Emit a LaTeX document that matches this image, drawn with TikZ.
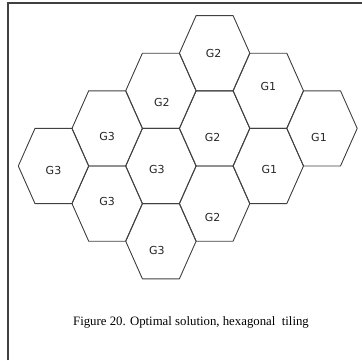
\documentclass[tikz,border=0pt]{standalone}
\usepackage{fontspec}
\setmainfont{Liberation Serif}
\newfontfamily\hexfont{DejaVu Sans}

\tikzset{
  hexcell/.style={draw=black!75, line width=0.9pt, line join=round},
  cellname/.style={font=\hexfont\fontsize{11}{13}\selectfont, text=black!85, inner sep=0pt},
  frameline/.style={draw=black!75, line width=1.5pt},
}

\begin{document}
\begin{tikzpicture}[x=1pt,y=-1pt]
\useasboundingbox (0,0) rectangle (362,360);

% frame (only left and top edges are visible)
\draw[frameline] (8,360) -- (8,3) -- (362,3);

% hexagonal cells: column/half-row/group/label shift
\foreach \c/\r/\g/\dx/\dy in
  {0/3/G3/0/4, 1/2/G3/0/8, 1/4/G3/0/-2,
   2/1/G2/1/12, 2/3/G3/-4/3, 2/5/G3/-4/9,
   3/0/G2/-1/0, 3/2/G2/-2/9, 3/4/G2/-2/14,
   4/1/G1/0/-4, 4/3/G1/1/3, 5/2/G1/-3/9}
{
  \pgfmathsetmacro\cx{53.5+53.7*\c}
  \pgfmathsetmacro\cy{53.2+37.6*\r}
  \draw[hexcell,shift={(\cx,\cy)}]
    (-35.2,0) -- (-18.5,-37.6) -- (18.5,-37.6) -- (35.2,0)
    -- (18.5,37.6) -- (-18.5,37.6) -- cycle;
  \node[cellname] (cell\c\r) at (\cx+\dx,\cy+\dy) {\g};
}

% caption
\node[font=\fontsize{12.8}{15}\selectfont] (caption) at (191,322)
  {Figure 20. Optimal solution, hexagonal\ \ tiling};

\end{tikzpicture}
\end{document}
